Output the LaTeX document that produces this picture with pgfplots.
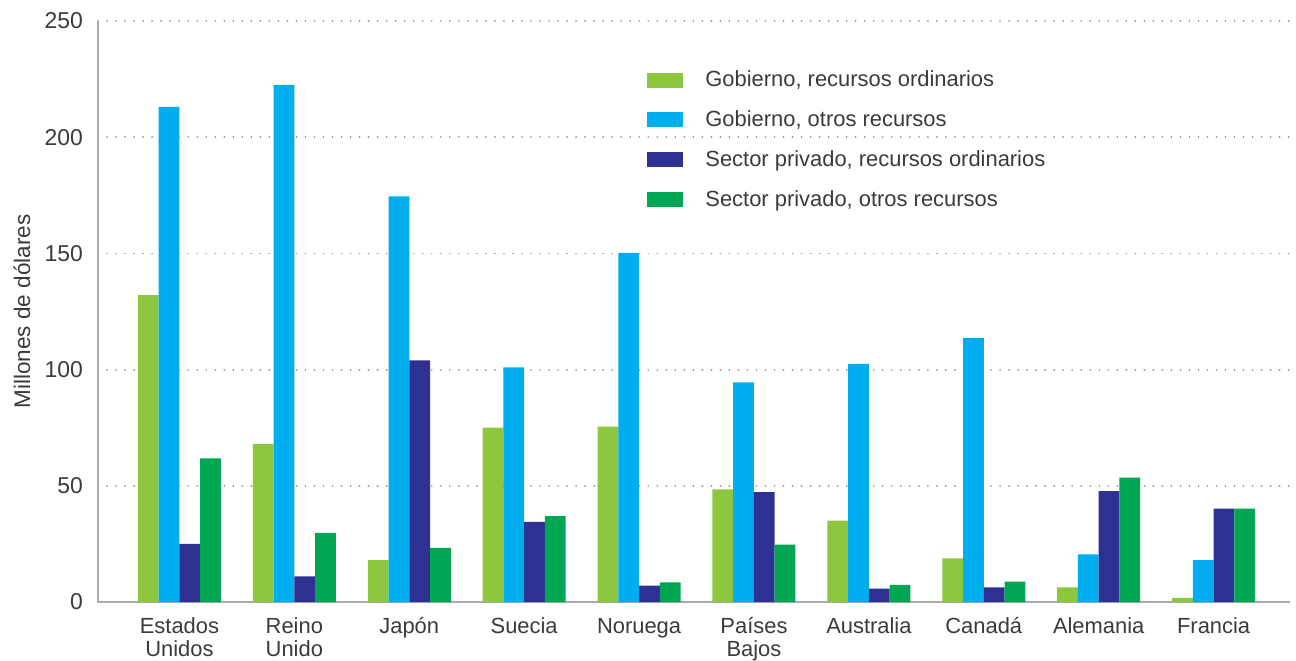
\documentclass[border=0pt]{standalone}
\usepackage{pgfplots}
\pgfplotsset{compat=1.18}
\usepackage{fontspec}
\setmainfont{Liberation Sans}
\definecolor{cLG}{HTML}{8DC63F}
\definecolor{cCY}{HTML}{00AEEF}
\definecolor{cNV}{HTML}{2E3192}
\definecolor{cGR}{HTML}{00A651}
\definecolor{txt}{HTML}{3A3A3A}
\definecolor{axc}{HTML}{AAAAAA}
\newcommand{\tl}[1]{\begin{tabular}[t]{@{}c@{}}#1\end{tabular}}
\begin{document}
\begin{tikzpicture}
\begin{axis}[
  scale only axis,
  width=596bp, height=290.5bp,
  ybar=0pt, bar width=10.375bp,
  xmin=-0.709, xmax=9.665,
  ymin=0, ymax=250,
  ytick={0,50,100,150,200,250},
  xtick={0,1,2,3,4,5,6,7,8,9},
  xticklabels={{\tl{Estados\\Unidos}},{\tl{Reino\\Unido}},{\tl{Japón}},{\tl{Suecia}},{\tl{Noruega}},{\tl{Países\\Bajos}},{\tl{Australia}},{\tl{Canadá}},{\tl{Alemania}},{\tl{Francia}}},
  xticklabel style={font=\fontsize{11}{12}\selectfont, text=txt, anchor=base, yshift=-15.5bp},
  yticklabel style={font=\fontsize{11.5}{12}\selectfont, text=txt, xshift=-4bp},
  /pgf/number format/assume math mode=true,
  major tick length=0pt,
  axis x line*=bottom, axis y line*=left,
  axis line style={axc, line width=0.75bp, -},
  ymajorgrids,
  grid style={axc!85!black, line width=0.9bp, dash pattern=on 0.01bp off 4.5bp, line cap=round},
  ylabel={Millones de dólares},
  ylabel style={at={(axis description cs:0,0.5)}, anchor=center, yshift=38bp, font=\fontsize{11.3}{12}\selectfont, text=txt},
  legend cell align=left,
  legend style={at={(axis description cs:0.4606,0.922)}, anchor=north west, draw=none, fill=none,
    font=\fontsize{11}{12}\selectfont, text=txt, row sep=6.5bp, inner sep=0pt,
    /tikz/every odd column/.append style={column sep=9bp}},
  legend image code/.code={\fill[#1] (0bp,-3.75bp) rectangle (18bp,3.75bp);},
  clip=false,
]
\addplot[fill=cLG, draw=none] coordinates {(0,132) (1,68) (2,18) (3,75) (4,75.5) (5,48.5) (6,35) (7,18.8) (8,6.3) (9,1.8)};
\addplot[fill=cCY, draw=none] coordinates {(0,213) (1,222.5) (2,174.5) (3,101) (4,150.2) (5,94.5) (6,102.5) (7,113.5) (8,20.5) (9,18)};
\addplot[fill=cNV, draw=none] coordinates {(0,25) (1,11) (2,104) (3,34.5) (4,7) (5,47.3) (6,5.8) (7,6.3) (8,47.7) (9,40.2)};
\addplot[fill=cGR, draw=none] coordinates {(0,61.8) (1,29.7) (2,23.3) (3,37) (4,8.4) (5,24.7) (6,7.4) (7,8.8) (8,53.5) (9,40.2)};
\legend{{Gobierno, recursos ordinarios}, {Gobierno, otros recursos}, {Sector privado, recursos ordinarios}, {Sector privado, otros recursos}}
\end{axis}
\pgfresetboundingbox
\path ([shift={(-49bp,-29bp)}]current axis.south west) rectangle ([shift={(3bp,10.5bp)}]current axis.north east);
\end{tikzpicture}
\end{document}
